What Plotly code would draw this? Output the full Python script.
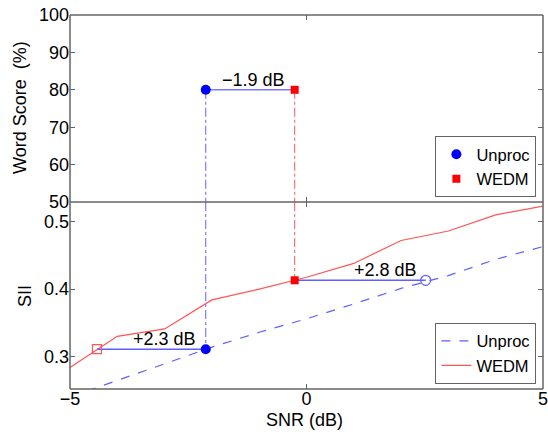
import plotly.graph_objects as go

# ---------------- data ----------------
snr = [-5, -4, -3, -2, -1, 0, 1, 2, 3, 4, 5]
sii_unproc = [0.240, 0.265, 0.289, 0.314, 0.336, 0.356, 0.378, 0.401, 0.420, 0.444, 0.463]
sii_wedm = [0.284, 0.330, 0.341, 0.384, 0.400, 0.4175, 0.438, 0.472, 0.486, 0.510, 0.523]

# word score 80% points (SNR in dB)
ws_level = 80
ws_unproc_snr = -2.13
ws_wedm_snr = -0.25

# SII matching points
sii_at_unproc = 0.311          # SII of Unproc at its 80% SNR
wedm_match_snr = -4.43         # WEDM SNR giving same SII
sii_at_wedm = 0.413            # SII of WEDM at its 80% SNR
unproc_match_snr = 2.52        # Unproc SNR giving same SII

labels = ["\u22121.9 dB", "+2.3 dB", "+2.8 dB"]
label_x = [-1.13, -3.0, 1.66]

ws_ticks = [50, 60, 70, 80, 90, 100]
sii_ticks = [0.3, 0.4, 0.5]
snr_ticks = [-5, 0, 5]

# ---------------- styling ----------------
BLUE = "rgb(0,0,255)"
RED = "rgb(255,0,0)"
LBLUE = "rgb(95,95,255)"
LRED = "rgb(255,85,85)"
AX = "rgb(100,100,100)"
FONT = dict(family="Liberation Sans, Arial, sans-serif", size=18, color="black")
LFONT = dict(family="Liberation Sans, Arial, sans-serif", size=16.5, color="black")

ws_range = [50, 100]
sii_range = [0.252, 0.529]

fig = go.Figure()

# vertical dash-dot guides (top panel)
fig.add_trace(go.Scatter(x=[ws_unproc_snr, ws_unproc_snr], y=[ws_level, ws_range[0]],
                         xaxis="x2", yaxis="y", mode="lines",
                         line=dict(color=LBLUE, width=1, dash="dashdot"), showlegend=False))
fig.add_trace(go.Scatter(x=[ws_wedm_snr, ws_wedm_snr], y=[ws_level, ws_range[0]],
                         xaxis="x2", yaxis="y", mode="lines",
                         line=dict(color=LRED, width=1, dash="dashdot"), showlegend=False))
# vertical dash-dot guides (bottom panel)
fig.add_trace(go.Scatter(x=[ws_unproc_snr, ws_unproc_snr], y=[sii_range[1], sii_at_unproc],
                         xaxis="x", yaxis="y2", mode="lines",
                         line=dict(color=LBLUE, width=1, dash="dashdot"), showlegend=False))
fig.add_trace(go.Scatter(x=[ws_wedm_snr, ws_wedm_snr], y=[sii_range[1], sii_at_wedm],
                         xaxis="x", yaxis="y2", mode="lines",
                         line=dict(color=LRED, width=1, dash="dashdot"), showlegend=False))

# horizontal connector (top)
fig.add_trace(go.Scatter(x=[ws_unproc_snr, ws_wedm_snr], y=[ws_level, ws_level],
                         xaxis="x2", yaxis="y", mode="lines",
                         line=dict(color="rgb(120,120,255)", width=1.5), showlegend=False))

# SII curves
fig.add_trace(go.Scatter(x=snr, y=sii_unproc, xaxis="x", yaxis="y2", mode="lines",
                         name="Unproc", legend="legend2",
                         line=dict(color=LBLUE, width=1.2, dash="dash")))
fig.add_trace(go.Scatter(x=snr, y=sii_wedm, xaxis="x", yaxis="y2", mode="lines",
                         name="WEDM", legend="legend2",
                         line=dict(color=LRED, width=1.2)))

# horizontal connectors (bottom)
fig.add_trace(go.Scatter(x=[wedm_match_snr, ws_unproc_snr], y=[sii_at_unproc, sii_at_unproc],
                         xaxis="x", yaxis="y2", mode="lines",
                         line=dict(color=LBLUE, width=1.5), showlegend=False))
fig.add_trace(go.Scatter(x=[ws_wedm_snr, unproc_match_snr], y=[sii_at_wedm, sii_at_wedm],
                         xaxis="x", yaxis="y2", mode="lines",
                         line=dict(color=LBLUE, width=1.5), showlegend=False))

# bottom markers
fig.add_trace(go.Scatter(x=[wedm_match_snr], y=[sii_at_unproc], xaxis="x", yaxis="y2",
                         mode="markers", showlegend=False, cliponaxis=False,
                         marker=dict(symbol="square-open", size=9, color=LRED, line=dict(width=1.2))))
fig.add_trace(go.Scatter(x=[unproc_match_snr], y=[sii_at_wedm], xaxis="x", yaxis="y2",
                         mode="markers", showlegend=False, cliponaxis=False,
                         marker=dict(symbol="circle-open", size=10, color=LBLUE, line=dict(width=1.2))))
fig.add_trace(go.Scatter(x=[ws_unproc_snr], y=[sii_at_unproc], xaxis="x", yaxis="y2",
                         mode="markers", showlegend=False, cliponaxis=False,
                         marker=dict(symbol="circle", size=10, color=BLUE)))
fig.add_trace(go.Scatter(x=[ws_wedm_snr], y=[sii_at_wedm], xaxis="x", yaxis="y2",
                         mode="markers", showlegend=False, cliponaxis=False,
                         marker=dict(symbol="square", size=8, color=RED)))

# top markers (legend 1)
fig.add_trace(go.Scatter(x=[ws_unproc_snr], y=[ws_level], xaxis="x2", yaxis="y",
                         mode="markers", name="Unproc", legend="legend", cliponaxis=False,
                         marker=dict(symbol="circle", size=10, color=BLUE)))
fig.add_trace(go.Scatter(x=[ws_wedm_snr], y=[ws_level], xaxis="x2", yaxis="y",
                         mode="markers", name="WEDM", legend="legend", cliponaxis=False,
                         marker=dict(symbol="square", size=8, color=RED)))

# annotations: gap labels
ann = [
    dict(x=label_x[0], y=ws_level, xref="x2", yref="y", text=labels[0],
         showarrow=False, xanchor="center", yanchor="bottom", font=FONT, yshift=-2),
    dict(x=label_x[1], y=sii_at_unproc, xref="x", yref="y2", text=labels[1],
         showarrow=False, xanchor="center", yanchor="bottom", font=FONT, yshift=-2),
    dict(x=label_x[2], y=sii_at_wedm, xref="x", yref="y2", text=labels[2],
         showarrow=False, xanchor="center", yanchor="bottom", font=FONT, yshift=-2),
    # axis titles
    dict(x=-0.1057, y=0.7513, xref="paper", yref="paper", text="Word Score  (%)",
         textangle=-90, showarrow=False, xanchor="center", yanchor="middle", font=FONT),
    dict(x=-0.0951, y=0.2487, xref="paper", yref="paper", text="SII",
         textangle=-90, showarrow=False, xanchor="center", yanchor="middle", font=FONT),
    dict(x=0.4968, y=-0.0816, xref="paper", yref="paper", text="SNR (dB)",
         showarrow=False, xanchor="center", yanchor="middle", font=FONT),
]

# axes frame drawn as four explicit edges plus the divider between the panels
edge = dict(color=AX, width=1.5)
shapes = [
    dict(type="line", xref="paper", yref="paper", x0=0, x1=1, y0=1, y1=1, line=edge, layer="above"),
    dict(type="line", xref="paper", yref="paper", x0=0, x1=1, y0=0, y1=0, line=edge, layer="above"),
    dict(type="line", xref="paper", yref="paper", x0=0, x1=0, y0=0, y1=1, line=edge, layer="above"),
    dict(type="line", xref="paper", yref="paper", x0=1, x1=1, y0=0, y1=1, line=edge, layer="above"),
    dict(type="line", xref="paper", yref="paper", x0=0, x1=1, y0=0.5, y1=0.5, line=edge, layer="above"),
]

axis_common = dict(showline=False, mirror="ticks",
                   ticks="inside", ticklen=5, tickcolor=AX, tickwidth=1, showgrid=False,
                   zeroline=False, tickfont=FONT, automargin=False)

legend_common = dict(bgcolor="white", bordercolor=AX, borderwidth=1, font=LFONT,
                     xanchor="right", yanchor="bottom", tracegroupgap=0)

fig.update_layout(
    width=548, height=432,
    margin=dict(l=70, r=5, t=15, b=43),
    paper_bgcolor="white", plot_bgcolor="white",
    font=FONT,
    xaxis=dict(domain=[0, 1], anchor="y2", range=[-5, 5], tickvals=snr_ticks,
               ticklabelstandoff=-3, ticklabeloverflow="allow", **axis_common),
    xaxis2=dict(domain=[0, 1], anchor="y", range=[-5, 5], tickvals=snr_ticks,
                showticklabels=False, matches="x", **axis_common),
    yaxis=dict(domain=[0.5, 1], anchor="x2", range=ws_range, tickvals=ws_ticks,
               ticklabeloverflow="allow", **axis_common),
    yaxis2=dict(domain=[0, 0.5], anchor="x", range=sii_range, tickvals=sii_ticks,
                ticktext=[f"{v:.1f}" for v in sii_ticks], **axis_common),
    legend=dict(x=0.986, y=0.5134, **legend_common),
    legend2=dict(x=0.986, y=0.0142, **legend_common),
    annotations=ann,
    shapes=shapes,
)

fig.write_html("out.html", config={"displayModeBar": False},
               post_script="document.body.style.margin='0';document.body.style.overflow='hidden';")
